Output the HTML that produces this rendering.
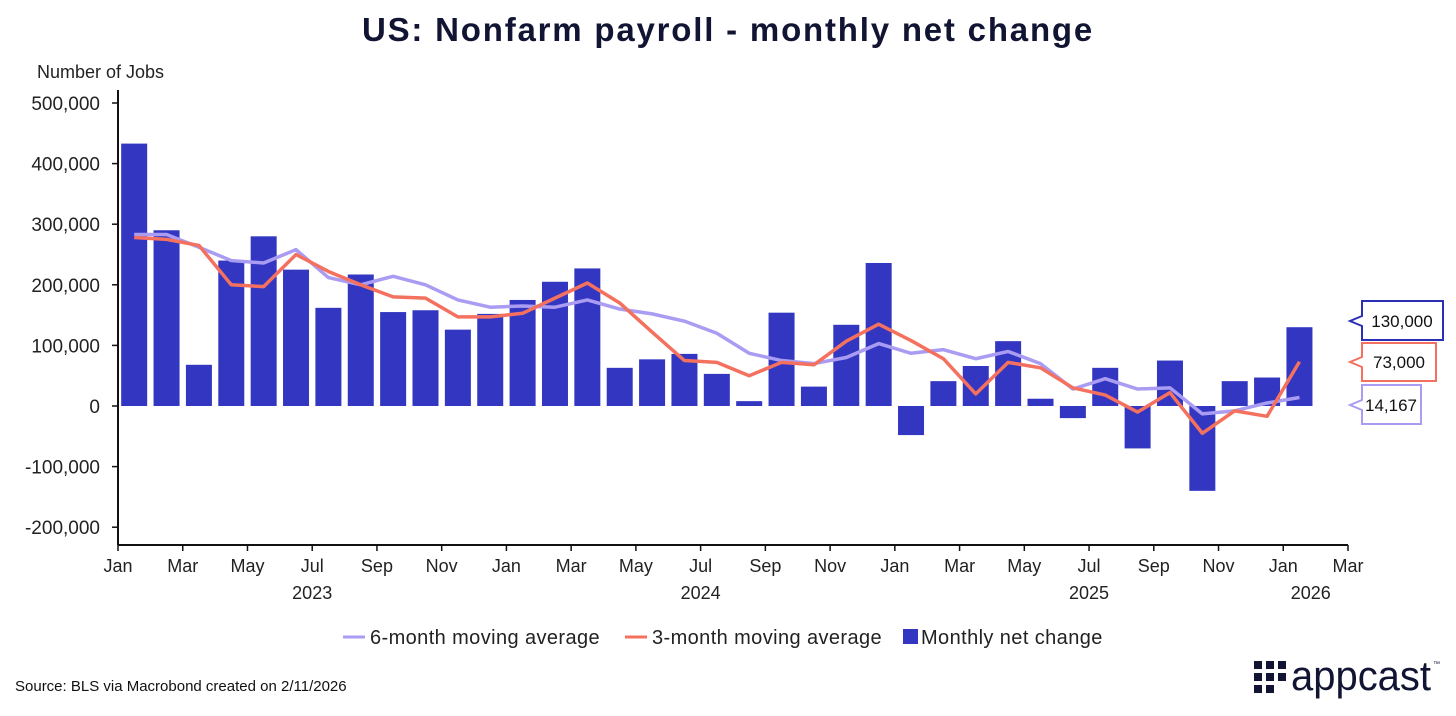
<!DOCTYPE html>
<html><head><meta charset="utf-8"><style>
body{margin:0;background:#fff;width:1456px;height:711px;overflow:hidden;font-family:"Liberation Sans",sans-serif}
svg text{font-family:"Liberation Sans",sans-serif}
</style></head><body>
<svg id="chart" width="1456" height="711" viewBox="0 0 1456 711" xmlns="http://www.w3.org/2000/svg">
<text x="728" y="41" text-anchor="middle" font-size="33" fill="#111432" font-weight="bold" letter-spacing="1.8">US: Nonfarm payroll - monthly net change</text>
<text x="37" y="78" font-size="18" fill="#222">Number of Jobs</text>
<g id="yticks"></g><g id="bars"></g><g id="lines"></g><g id="xticks"></g>
<line x1="118" y1="90" x2="118" y2="545" stroke="#111" stroke-width="2"/>
<line x1="118" y1="545" x2="1348" y2="545" stroke="#111" stroke-width="2"/>
<g><path d="M1362,301 H1443 V340 H1362 V326 L1350,321 L1362,316 Z" fill="#fff" stroke="#2b2fb5" stroke-width="2"/><text x="1402" y="327" text-anchor="middle" font-size="17" fill="#111">130,000</text></g>
<g><path d="M1362,343 H1436 V381 H1362 V367 L1350,362 L1362,357 Z" fill="#fff" stroke="#f4715f" stroke-width="2"/><text x="1399" y="368" text-anchor="middle" font-size="17" fill="#111">73,000</text></g>
<g><path d="M1362,385 H1421 V424 H1362 V410 L1350,405 L1362,400 Z" fill="#fff" stroke="#a99cf2" stroke-width="2"/><text x="1391" y="411" text-anchor="middle" font-size="17" fill="#111">14,167</text></g>
<g font-size="20" fill="#222">
<line x1="343" y1="637" x2="365" y2="637" stroke="#a99cf2" stroke-width="3"/><text x="370" y="644" letter-spacing="0.4">6-month moving average</text>
<line x1="625" y1="637" x2="647" y2="637" stroke="#f4715f" stroke-width="3"/><text x="652" y="644" letter-spacing="0.4">3-month moving average</text>
<rect x="903" y="629" width="15" height="15" fill="#3236c0"/><text x="921" y="644" letter-spacing="0.4">Monthly net change</text>
</g>
<text x="15" y="691" font-size="15" fill="#111">Source: BLS via Macrobond created on 2/11/2026</text>
<g fill="#111432">
<rect x="1254" y="661" width="8" height="8"/><rect x="1266" y="661" width="8" height="8"/><rect x="1278" y="661" width="8" height="8"/>
<rect x="1254" y="673" width="8" height="8"/><rect x="1266" y="673" width="8" height="8"/><rect x="1278" y="673" width="8" height="8"/>
<rect x="1254" y="685" width="8" height="8"/><rect x="1266" y="685" width="8" height="8"/>
<text x="1291" y="690" font-size="42" textLength="140" lengthAdjust="spacingAndGlyphs">appcast</text><text x="1433" y="666" font-size="7">™</text>
</g>
</svg>
<script>
const NS='http://www.w3.org/2000/svg';
const monthly=[433,290,68,240,280,225,162,217,155,158,126,152,175,205,227,63,77,86,53,8,154,32,134,236,-48,41,66,107,12,-20,63,-70,75,-140,41,47,130];
const ma3=[278,275,265,200,197,250,222,200,180,178,147,147,153,178,203,170,122,75,72,50,72,68,107,135,108,78,20,72,63,30,18,-10,22,-45,-8,-17,73];
const ma6=[283,283,262,240,236,258,212,200,214,200,175,163,165,163,175,160,152,140,120,87,75,70,80,103,87,93,78,90,70,28,45,28,30,-13,-8,5,14];
const yTicks=[-200000,-100000,0,100000,200000,300000,400000,500000];
const monthLabels=['Jan','Mar','May','Jul','Sep','Nov','Jan','Mar','May','Jul','Sep','Nov','Jan','Mar','May','Jul','Sep','Nov','Jan','Mar'];
const yearLabels=['2023','2024','2025','2026'];
const yearIdx=[6,18,30,36.85];
const x0=118,mw=(1348-118)/38;
const X=m=>x0+mw*m; const Y=k=>406-k*0.606;
function el(t,a,p){const e=document.createElementNS(NS,t);for(const k in a)e.setAttribute(k,a[k]);document.getElementById(p).appendChild(e);return e;}
yTicks.forEach(v=>{const y=Y(v/1000);
 const t=el('text',{x:100,y:y+7,'text-anchor':'end','font-size':19,fill:'#222'},'yticks');t.textContent=v.toLocaleString('en-US');
 
 
 const l=el('line',{x1:112,x2:118,y1:y,y2:y,stroke:'#111','stroke-width':1.5},'yticks');
 
 });
monthly.forEach((v,i)=>{const y=Y(v),y0=Y(0);
 const r=el('rect',{x:X(i+0.5)-13,y:Math.min(y,y0),width:26,height:Math.abs(y-y0),fill:'#3236c0'},'bars');
 
 });
[[ma6,'#a99cf2','line-6-month-average'],[ma3,'#f4715f','line-3-month-average']].forEach(([s,c,n])=>{
 const p=el('polyline',{points:s.map((v,i)=>X(i+0.5)+','+Y(v)).join(' '),fill:'none',stroke:c,'stroke-width':3.5,'stroke-linejoin':'round'},'lines');
 
 });
monthLabels.forEach((m,i)=>{const x=X(i*2);
 const l=el('line',{x1:x,x2:x,y1:545,y2:551,stroke:'#111','stroke-width':1.5},'xticks');
 
 
 const t=el('text',{x:x,y:572,'text-anchor':'middle','font-size':18,fill:'#222'},'xticks');t.textContent=m;
 
 });
yearLabels.forEach((yl,i)=>{const t=el('text',{x:X(yearIdx[i]),y:599,'text-anchor':'middle','font-size':18,fill:'#222'},'xticks');t.textContent=yl;
 
 });
</script>
</body></html>
